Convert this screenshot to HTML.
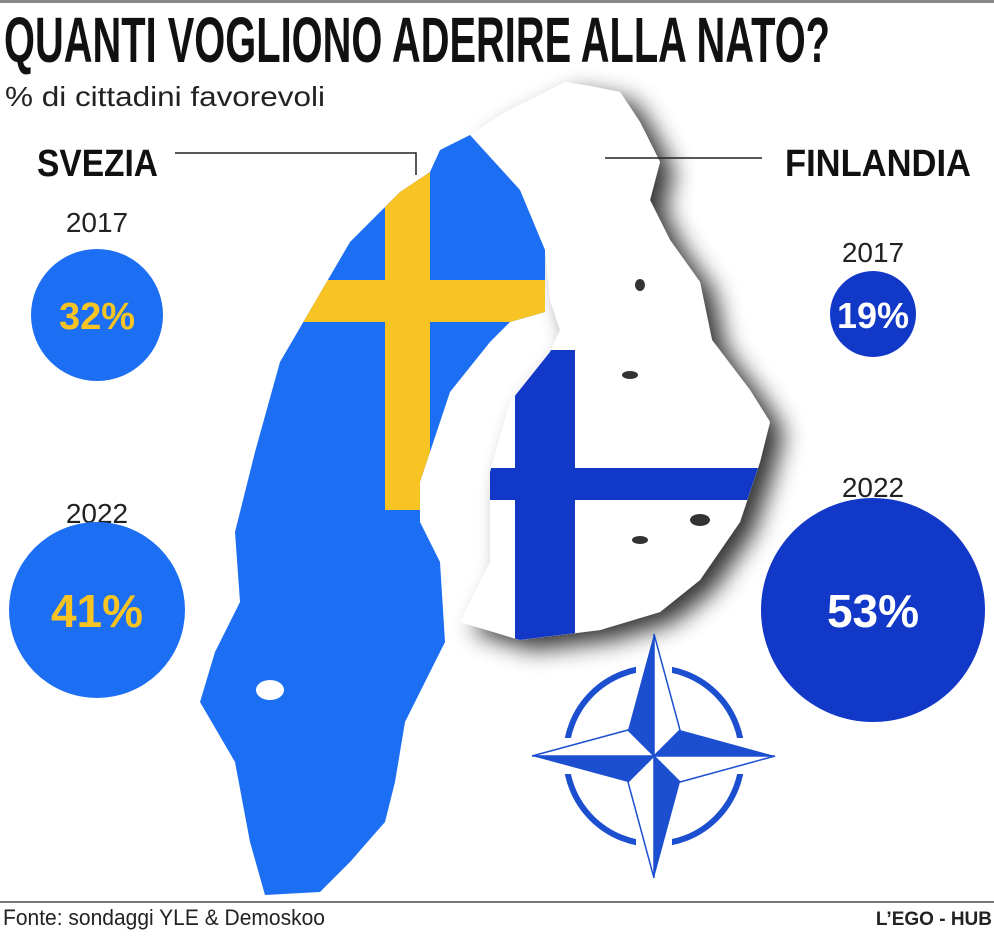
<!DOCTYPE html>
<html><head><meta charset="utf-8"><style>
html,body{margin:0;padding:0;background:#fff;}
svg{display:block;}
</style></head><body>
<svg width="994" height="942" viewBox="0 0 994 942" xmlns="http://www.w3.org/2000/svg">
<defs>
<filter id="sh" x="-20%" y="-20%" width="150%" height="150%">
<feGaussianBlur in="SourceAlpha" stdDeviation="12"/>
<feOffset dx="14" dy="10" result="b"/>
<feComponentTransfer><feFuncA type="linear" slope="0.8"/></feComponentTransfer>
<feMerge><feMergeNode/><feMergeNode in="SourceGraphic"/></feMerge>
</filter>
<clipPath id="fc"><path id="fin" d="M470,135 L505,112 L530,100 L565,82 L590,86 L620,92 L640,122 L660,162 L650,200 L670,240 L700,282 L712,340 L750,390 L770,422 L760,462 L740,522 L700,580 L660,612 L600,630 L520,640 L460,622 L490,562 L490,472 L510,402 L550,352 L560,330 L550,300 L545,250 L520,190 Z"/></clipPath>
<clipPath id="sc"><path id="swe" d="M440,150 L470,135 L520,190 L545,250 L545,312 L510,322 L490,342 L450,392 L420,482 L420,522 L440,562 L445,642 L420,692 L405,722 L395,782 L385,822 L350,862 L320,892 L265,895 L250,842 L235,762 L200,702 L215,652 L240,602 L235,532 L255,452 L280,362 L315,302 L350,242 L400,192 L430,172 Z"/></clipPath>
</defs>
<rect x="0" y="0" width="994" height="3" fill="#888"/>
<text x="4" y="62" font-family="Liberation Sans Narrow, Liberation Sans, sans-serif" font-weight="bold" font-size="64" textLength="826" lengthAdjust="spacingAndGlyphs" fill="#111">QUANTI VOGLIONO ADERIRE ALLA NATO?</text>
<text x="5" y="106" font-family="Liberation Sans Narrow, Liberation Sans, sans-serif" font-size="28" textLength="320" lengthAdjust="spacingAndGlyphs" fill="#222">% di cittadini favorevoli</text>
<text x="37" y="176" font-family="Liberation Sans Narrow, Liberation Sans, sans-serif" font-weight="bold" font-size="38" textLength="121" lengthAdjust="spacingAndGlyphs" fill="#111">SVEZIA</text>
<text x="785" y="176" font-family="Liberation Sans Narrow, Liberation Sans, sans-serif" font-weight="bold" font-size="38" textLength="186" lengthAdjust="spacingAndGlyphs" fill="#111">FINLANDIA</text>

<g filter="url(#sh)">
<use href="#fin" fill="#fff"/>
</g>
<g clip-path="url(#fc)">
<rect x="515" y="350" width="60" height="300" fill="#1238c8"/>
<rect x="470" y="468" width="320" height="32" fill="#1238c8"/>
</g>
<use href="#swe" fill="#1c6ef2"/>
<g clip-path="url(#sc)">
<rect x="385" y="140" width="45" height="370" fill="#f8c423"/>
<rect x="300" y="280" width="260" height="42" fill="#f8c423"/>
</g>
<g fill="#333">
<ellipse cx="640" cy="285" rx="5" ry="6"/><ellipse cx="630" cy="375" rx="8" ry="4"/>
<ellipse cx="700" cy="520" rx="10" ry="6"/><ellipse cx="640" cy="540" rx="8" ry="4"/><ellipse cx="270" cy="690" rx="14" ry="10" fill="#fff"/>
</g>
<polyline points="175,153 416,153 416,175" fill="none" stroke="#222" stroke-width="1.5"/>
<line x1="605" y1="158" x2="762" y2="158" stroke="#222" stroke-width="1.5"/>

<g font-family="Liberation Sans Narrow, Liberation Sans, sans-serif" text-anchor="middle">
<text x="97" y="232" font-size="28" fill="#222">2017</text>
<circle cx="97" cy="315" r="66" fill="#1c6ef2"/>
<text x="97" y="329" font-size="38" font-weight="bold" fill="#f8c423">32%</text>
<text x="97" y="523" font-size="28" fill="#222">2022</text>
<circle cx="97" cy="610" r="88" fill="#1c6ef2"/>
<text x="97" y="627" font-size="46" font-weight="bold" fill="#f8c423">41%</text>
<text x="873" y="262" font-size="28" fill="#222">2017</text>
<circle cx="873" cy="314" r="43" fill="#1238c8"/>
<text x="873" y="328" font-size="36" font-weight="bold" fill="#fff">19%</text>
<text x="873" y="497" font-size="28" fill="#222">2022</text>
<circle cx="873" cy="610" r="112" fill="#1238c8"/>
<text x="873" y="627" font-size="46" font-weight="bold" fill="#fff">53%</text>
</g>

<g transform="translate(654,756)">
<circle r="88" fill="none" stroke="#1c4fd0" stroke-width="6"/>
<g fill="#fff">
<rect x="-18" y="-96" width="36" height="16"/>
<rect x="-18" y="80" width="36" height="16"/>
<rect x="-96" y="-18" width="16" height="36"/>
<rect x="80" y="-18" width="16" height="36"/>
</g>
<g fill="#fff" stroke="#1c4fd0" stroke-width="1.5">
<polygon points="0,-122 26,-26 0,0"/>
<polygon points="121,0 26,26 0,0"/>
<polygon points="0,122 -26,26 0,0"/>
<polygon points="-122,0 -26,-26 0,0"/>
</g>
<g fill="#1c4fd0">
<polygon points="0,-122 -26,-26 0,0"/>
<polygon points="121,0 26,-26 0,0"/>
<polygon points="0,122 26,26 0,0"/>
<polygon points="-122,0 -26,26 0,0"/>
</g>
</g>

<rect x="0" y="901" width="994" height="2" fill="#777"/>
<text x="3" y="925" font-family="Liberation Sans Narrow, Liberation Sans, sans-serif" font-size="22" textLength="322" lengthAdjust="spacingAndGlyphs" fill="#222">Fonte: sondaggi YLE &amp; Demoskoo</text>
<text x="992" y="925" text-anchor="end" font-family="Liberation Sans, sans-serif" font-weight="bold" font-size="19" fill="#222">L’EGO - HUB</text>
</svg>
</body></html>
